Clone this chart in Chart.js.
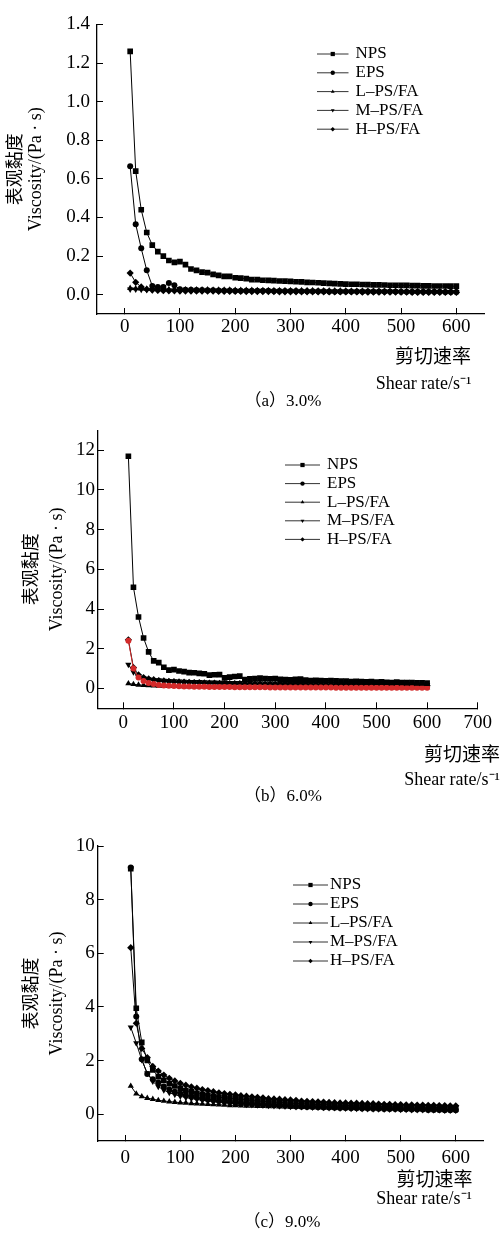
<!DOCTYPE html>
<html>
<head>
<meta charset="utf-8">
<script src="https://cdn.jsdelivr.net/npm/chart.js"></script>
<style>
  body { margin: 0; background: #fff; }
  #wrap { position: relative; width: 501px; height: 1242px; }
  canvas { position: absolute; left: 0; display: block; }
</style>
</head>
<body>
<div id="wrap">
  <canvas id="chartA" width="501" height="410" style="top:0px"></canvas>
  <canvas id="chartB" width="501" height="405" style="top:410px"></canvas>
  <canvas id="chartC" width="501" height="427" style="top:815px"></canvas>
</div>
<script>
// ---- data ----
const seriesNames = ['NPS', 'EPS', 'L–PS/FA', 'M–PS/FA', 'H–PS/FA'];
const shearRate = [10, 20, 30, 40, 50, 60, 70, 80, 90, 100,
  110, 120, 130, 140, 150, 160, 170, 180, 190, 200,
  210, 220, 230, 240, 250, 260, 270, 280, 290, 300,
  310, 320, 330, 340, 350, 360, 370, 380, 390, 400,
  410, 420, 430, 440, 450, 460, 470, 480, 490, 500,
  510, 520, 530, 540, 550, 560, 570, 580, 590, 600];

// (a) 3.0%
const npsA = [1.26, 0.64, 0.44, 0.322, 0.257, 0.223, 0.2, 0.177, 0.167, 0.171,
  0.156, 0.133, 0.126, 0.117, 0.114, 0.105, 0.1, 0.095, 0.095, 0.088,
  0.086, 0.083, 0.078, 0.078, 0.075, 0.074, 0.073, 0.071, 0.07, 0.069,
  0.067, 0.066, 0.064, 0.063, 0.062, 0.06, 0.059, 0.057, 0.056, 0.055,
  0.054, 0.054, 0.053, 0.052, 0.051, 0.051, 0.05, 0.049, 0.049, 0.048,
  0.048, 0.047, 0.047, 0.046, 0.046, 0.045, 0.045, 0.045, 0.044, 0.044];
const epsA = [0.665, 0.365, 0.24, 0.126, 0.045, 0.04, 0.04, 0.06, 0.049, 0.028,
  0.026, 0.025, 0.024, 0.024, 0.023, 0.023, 0.022, 0.022, 0.022, 0.021,
  0.021, 0.021, 0.02, 0.02, 0.02, 0.02, 0.019, 0.019, 0.019, 0.019,
  0.019, 0.018, 0.018, 0.018, 0.018, 0.018, 0.017, 0.017, 0.017, 0.017,
  0.017, 0.017, 0.016, 0.016, 0.016, 0.016, 0.016, 0.016, 0.016, 0.015,
  0.015, 0.015, 0.015, 0.015, 0.015, 0.015, 0.015, 0.014, 0.014, 0.014];
const lowA = [0.034, 0.032, 0.031, 0.03, 0.03, 0.029, 0.029, 0.028, 0.028, 0.027,
  0.027, 0.027, 0.026, 0.026, 0.026, 0.025, 0.025, 0.025, 0.025, 0.024,
  0.024, 0.024, 0.024, 0.023, 0.023, 0.023, 0.023, 0.023, 0.022, 0.022,
  0.022, 0.022, 0.022, 0.022, 0.021, 0.021, 0.021, 0.021, 0.021, 0.021,
  0.02, 0.02, 0.02, 0.02, 0.02, 0.02, 0.02, 0.02, 0.019, 0.019,
  0.019, 0.019, 0.019, 0.019, 0.019, 0.019, 0.019, 0.018, 0.018, 0.018];
const midA = [0.028, 0.027, 0.026, 0.025, 0.025, 0.024, 0.024, 0.023, 0.023, 0.023,
  0.022, 0.022, 0.022, 0.021, 0.021, 0.021, 0.021, 0.02, 0.02, 0.02,
  0.02, 0.02, 0.019, 0.019, 0.019, 0.019, 0.019, 0.018, 0.018, 0.018,
  0.018, 0.018, 0.018, 0.017, 0.017, 0.017, 0.017, 0.017, 0.017, 0.017,
  0.016, 0.016, 0.016, 0.016, 0.016, 0.016, 0.016, 0.016, 0.016, 0.015,
  0.015, 0.015, 0.015, 0.015, 0.015, 0.015, 0.015, 0.015, 0.015, 0.015];
const highA = [0.112, 0.064, 0.04, 0.028, 0.024, 0.022, 0.021, 0.02, 0.02, 0.019,
  0.019, 0.019, 0.018, 0.018, 0.018, 0.018, 0.017, 0.017, 0.017, 0.017,
  0.017, 0.016, 0.016, 0.016, 0.016, 0.016, 0.016, 0.015, 0.015, 0.015,
  0.015, 0.015, 0.015, 0.015, 0.014, 0.014, 0.014, 0.014, 0.014, 0.014,
  0.014, 0.014, 0.013, 0.013, 0.013, 0.013, 0.013, 0.013, 0.013, 0.013,
  0.013, 0.012, 0.012, 0.012, 0.012, 0.012, 0.012, 0.012, 0.012, 0.012];

// (b) 6.0%
const npsB = [11.7, 5.1, 3.6, 2.54, 1.84, 1.39, 1.3, 1.07, 0.92, 0.95,
  0.88, 0.85, 0.8, 0.79, 0.76, 0.74, 0.67, 0.69, 0.7, 0.53,
  0.57, 0.6, 0.62, 0.45, 0.48, 0.5, 0.52, 0.5, 0.49, 0.5,
  0.46, 0.45, 0.44, 0.46, 0.47, 0.42, 0.4, 0.41, 0.4, 0.39,
  0.4, 0.38, 0.37, 0.37, 0.35, 0.36, 0.34, 0.33, 0.35, 0.32,
  0.33, 0.31, 0.3, 0.32, 0.3, 0.29, 0.3, 0.28, 0.28, 0.27];
const epsB = [2.4, 1.0, 0.55, 0.38, 0.28, 0.22, 0.18, 0.15, 0.13, 0.12,
  0.11, 0.1, 0.095, 0.09, 0.085, 0.08, 0.078, 0.075, 0.072, 0.07,
  0.068, 0.066, 0.064, 0.062, 0.06, 0.058, 0.057, 0.055, 0.054, 0.053,
  0.052, 0.05, 0.049, 0.048, 0.047, 0.046, 0.045, 0.044, 0.043, 0.042,
  0.042, 0.041, 0.04, 0.04, 0.039, 0.038, 0.038, 0.037, 0.037, 0.036,
  0.036, 0.035, 0.035, 0.034, 0.034, 0.033, 0.033, 0.033, 0.032, 0.032];
const lowB = [0.25, 0.21, 0.18, 0.16, 0.15, 0.14, 0.13, 0.125, 0.12, 0.115,
  0.11, 0.105, 0.1, 0.1, 0.095, 0.095, 0.09, 0.09, 0.088, 0.086,
  0.084, 0.082, 0.08, 0.08, 0.078, 0.076, 0.075, 0.074, 0.073, 0.072,
  0.071, 0.07, 0.069, 0.068, 0.067, 0.066, 0.066, 0.065, 0.064, 0.063,
  0.063, 0.062, 0.061, 0.061, 0.06, 0.06, 0.059, 0.059, 0.058, 0.058,
  0.057, 0.057, 0.056, 0.056, 0.055, 0.055, 0.055, 0.054, 0.054, 0.053];
const midB = [1.2, 0.82, 0.62, 0.52, 0.47, 0.44, 0.42, 0.4, 0.38, 0.37,
  0.36, 0.35, 0.34, 0.33, 0.33, 0.32, 0.31, 0.31, 0.3, 0.3,
  0.29, 0.29, 0.28, 0.28, 0.28, 0.27, 0.27, 0.26, 0.26, 0.26,
  0.25, 0.25, 0.25, 0.24, 0.24, 0.24, 0.23, 0.23, 0.23, 0.23,
  0.22, 0.22, 0.22, 0.22, 0.21, 0.21, 0.21, 0.21, 0.2, 0.2,
  0.2, 0.2, 0.2, 0.19, 0.19, 0.19, 0.19, 0.19, 0.18, 0.18];
const highB = [2.45, 1.05, 0.68, 0.55, 0.48, 0.44, 0.4, 0.38, 0.36, 0.34,
  0.33, 0.32, 0.31, 0.3, 0.29, 0.28, 0.27, 0.27, 0.26, 0.25,
  0.25, 0.24, 0.24, 0.23, 0.23, 0.22, 0.22, 0.21, 0.21, 0.21,
  0.2, 0.2, 0.2, 0.19, 0.19, 0.19, 0.18, 0.18, 0.18, 0.18,
  0.17, 0.17, 0.17, 0.17, 0.16, 0.16, 0.16, 0.16, 0.16, 0.15,
  0.15, 0.15, 0.15, 0.15, 0.14, 0.14, 0.14, 0.14, 0.14, 0.14];

// (c) 9.0%
const npsC = [9.15, 3.95, 2.68, 2.0, 1.65, 1.4, 1.26, 1.14, 1.05, 0.96,
  0.88, 0.83, 0.78, 0.74, 0.7, 0.67, 0.64, 0.61, 0.59, 0.57,
  0.55, 0.53, 0.51, 0.49, 0.48, 0.46, 0.45, 0.44, 0.42, 0.41,
  0.4, 0.39, 0.38, 0.37, 0.36, 0.36, 0.35, 0.34, 0.33, 0.33,
  0.32, 0.31, 0.31, 0.3, 0.3, 0.29, 0.29, 0.28, 0.28, 0.27,
  0.27, 0.27, 0.26, 0.26, 0.25, 0.25, 0.25, 0.24, 0.24, 0.24];
const epsC = [9.2, 3.64, 2.05, 1.5, 1.3, 1.18, 1.03, 0.92, 0.84, 0.77,
  0.71, 0.66, 0.62, 0.58, 0.55, 0.52, 0.49, 0.47, 0.45, 0.43,
  0.41, 0.39, 0.38, 0.36, 0.35, 0.34, 0.33, 0.32, 0.31, 0.3,
  0.29, 0.28, 0.27, 0.27, 0.26, 0.25, 0.25, 0.24, 0.23, 0.23,
  0.22, 0.22, 0.21, 0.21, 0.2, 0.2, 0.19, 0.19, 0.19, 0.18,
  0.18, 0.17, 0.17, 0.17, 0.16, 0.16, 0.16, 0.15, 0.15, 0.15];
const lowC = [1.05, 0.76, 0.66, 0.6, 0.56, 0.52, 0.49, 0.47, 0.45, 0.43,
  0.42, 0.4, 0.39, 0.38, 0.37, 0.36, 0.35, 0.34, 0.33, 0.33,
  0.32, 0.31, 0.31, 0.3, 0.3, 0.29, 0.29, 0.28, 0.28, 0.27,
  0.27, 0.26, 0.26, 0.25, 0.25, 0.25, 0.24, 0.24, 0.23, 0.23,
  0.23, 0.22, 0.22, 0.22, 0.21, 0.21, 0.21, 0.2, 0.2, 0.2,
  0.19, 0.19, 0.19, 0.18, 0.18, 0.18, 0.17, 0.17, 0.17, 0.16];
const midC = [3.24, 2.65, 2.02, 1.53, 1.22, 1.03, 0.9, 0.8, 0.73, 0.67,
  0.62, 0.58, 0.55, 0.52, 0.49, 0.47, 0.45, 0.43, 0.41, 0.39,
  0.38, 0.36, 0.35, 0.34, 0.33, 0.32, 0.31, 0.3, 0.29, 0.28,
  0.27, 0.27, 0.26, 0.25, 0.25, 0.24, 0.23, 0.23, 0.22, 0.22,
  0.21, 0.21, 0.2, 0.2, 0.19, 0.19, 0.18, 0.18, 0.18, 0.17,
  0.17, 0.16, 0.16, 0.16, 0.15, 0.15, 0.15, 0.14, 0.14, 0.14];
const highC = [6.21, 3.39, 2.45, 2.11, 1.78, 1.61, 1.46, 1.34, 1.24, 1.15,
  1.08, 1.02, 0.97, 0.92, 0.88, 0.84, 0.8, 0.77, 0.74, 0.72,
  0.69, 0.67, 0.65, 0.63, 0.61, 0.58, 0.57, 0.56, 0.54, 0.53,
  0.52, 0.49, 0.48, 0.47, 0.46, 0.45, 0.44, 0.43, 0.42, 0.42,
  0.41, 0.41, 0.4, 0.39, 0.39, 0.38, 0.37, 0.37, 0.36, 0.36,
  0.35, 0.35, 0.34, 0.34, 0.33, 0.33, 0.32, 0.32, 0.31, 0.31];

// ticks
const xTicksAC = [0, 100, 200, 300, 400, 500, 600];
const xTicksB = [0, 100, 200, 300, 400, 500, 600, 700];
const yTicksA = [0, 0.2, 0.4, 0.6, 0.8, 1.0, 1.2, 1.4];
const yTicksB = [0, 2, 4, 6, 8, 10, 12];
const yTicksC = [0, 2, 4, 6, 8, 10];

// texts
const yTitle = ['表观黏度', 'Viscosity/(Pa · s)'];
const xTitleZh = '剪切速率';
const xTitleEn = 'Shear rate/s⁻¹';
const captions = ['（a）3.0%', '（b）6.0%', '（c）9.0%'];

const SERIF = '"Liberation Serif", "Times New Roman", "Noto Sans CJK SC", serif';
const pointStyles = ['rect', 'circle', 'triangle', 'triangle', 'rectRot'];
const pointRot = [0, 0, 0, 180, 0];
const pointSizes = [4, 3, 3.6, 3.6, 3.6];

// text drawn at fixed spots (axis title on x, caption)
const overlayText = {
    id: 'overlayText',
    afterDraw(chart, args, opts) {
        const ctx = chart.ctx;
        ctx.save();
        ctx.fillStyle = '#000';
        ctx.textBaseline = 'middle';
        opts.items.forEach(it => {
            ctx.font = it.font;
            ctx.textAlign = it.align;
            ctx.fillText(it.text, it.x, it.y);
        });
        ctx.restore();
    }
};

// legend inside the plot: short line + marker + label
const insideLegend = {
    id: 'insideLegend',
    afterDraw(chart, args, opts) {
        const ctx = chart.ctx;
        ctx.save();
        chart.data.datasets.forEach((ds, i) => {
            const y = opts.y + i * opts.gap;
            ctx.strokeStyle = '#333';
            ctx.lineWidth = 1;
            ctx.beginPath();
            ctx.moveTo(opts.x, y);
            ctx.lineTo(opts.x + opts.lineLen, y);
            ctx.stroke();
            ctx.fillStyle = '#000';
            ctx.strokeStyle = '#000';
            Chart.helpers.drawPoint(ctx, {
                pointStyle: ds.pointStyle, rotation: ds.pointRotation || 0,
                radius: ds.pointStyle === 'rect' ? 3 : 2.2, borderWidth: 0
            }, opts.x + opts.lineLen / 2, y);
            ctx.font = '17px ' + SERIF;
            ctx.textAlign = 'left';
            ctx.textBaseline = 'middle';
            ctx.fillText(ds.label, opts.x + opts.lineLen + opts.textGap, y);
        });
        ctx.restore();
    }
};

function buildSets(cols, colorEps) {
    return cols.map((vals, i) => {
        const c = (i === 1 && colorEps) ? colorEps : '#000';
        return {
            label: seriesNames[i],
            data: shearRate.map((x, k) => ({ x: x, y: vals[k] })),
            borderColor: c,
            backgroundColor: c,
            borderWidth: 1,
            pointStyle: pointStyles[i],
            pointRotation: pointRot[i],
            pointRadius: pointSizes[i],
            pointBorderWidth: 0,
            pointBackgroundColor: c,
            tension: 0
        };
    });
}

function makePanel(id, p) {
    const ctx = document.getElementById(id).getContext('2d');
    const H = ctx.canvas.height;
    new Chart(ctx, {
        type: 'line',
        data: { datasets: p.sets },
        options: {
            responsive: false,
            animation: false,
            devicePixelRatio: 1,
            layout: { padding: { left: 0, top: p.top, right: p.right, bottom: 0 } },
            plugins: {
                legend: { display: false },
                tooltip: { enabled: false },
                insideLegend: p.legend,
                overlayText: { items: p.texts }
            },
            scales: {
                x: {
                    type: 'linear', min: p.xMin, max: p.xMax,
                    afterBuildTicks: s => { s.ticks = p.xTicks.map(v => ({ value: v })); },
                    afterFit: s => { s.height = H - p.axisY; },
                    border: { color: '#000', width: 1.3 },
                    grid: { drawOnChartArea: false, tickLength: -6, color: '#000' },
                    ticks: { color: '#000', font: { family: SERIF, size: 19 }, padding: p.xPad, maxRotation: 0 }
                },
                y: {
                    type: 'linear', min: p.yMin, max: p.yMax,
                    afterBuildTicks: s => { s.ticks = p.yTicks.map(v => ({ value: v })); },
                    afterFit: s => { s.width = p.leftW; },
                    border: { color: '#000', width: 1.3 },
                    grid: { drawOnChartArea: false, tickLength: -6, color: '#000' },
                    ticks: {
                        color: '#000', font: { family: SERIF, size: 19 }, padding: p.yPad,
                        callback: v => v.toFixed(p.dec)
                    },
                    title: {
                        display: true, text: yTitle, color: '#000',
                        font: { family: SERIF, size: 18, lineHeight: p.titleLH },
                        padding: { top: p.titlePad, bottom: 0 }
                    }
                }
            }
        },
        plugins: [insideLegend, overlayText]
    });
}

function texts(zx, zy, ex, ey, cap, cx, cy) {
    return [
        { text: xTitleZh, x: zx, y: zy, align: 'right', font: '19px "Noto Sans CJK SC", sans-serif' },
        { text: xTitleEn, x: ex, y: ey, align: 'right', font: '18px ' + SERIF },
        { text: cap, x: cx, y: cy, align: 'center', font: '17px ' + SERIF }
    ];
}

makePanel('chartA', {
    sets: buildSets([npsA, epsA, lowA, midA, highA]),
    top: 20.5, right: 17, axisY: 314, leftW: 97,
    xMin: -50, xMax: 650, xTicks: xTicksAC, xPad: 8,
    yMin: -0.1, yMax: 1.4, yTicks: yTicksA, yPad: 13, dec: 1,
    titleLH: 20 / 18, titlePad: 6.5,
    legend: { x: 317, y: 54, gap: 18.8, lineLen: 31.5, textGap: 7 },
    texts: texts(471, 356, 471.5, 384, captions[0], 283, 402)
});

makePanel('chartB', {
    sets: buildSets([npsB, epsB, lowB, midB, highB], '#d42a2a'),
    top: 19.3, right: 16.7, axisY: 298.3, leftW: 98,
    xMin: -50, xMax: 700, xTicks: xTicksB, xPad: 9,
    yMin: -1, yMax: 13, yTicks: yTicksB, yPad: 9, dec: 0,
    titleLH: 25 / 18, titlePad: 20,
    legend: { x: 285, y: 55, gap: 18.6, lineLen: 35, textGap: 7 },
    texts: texts(500, 344, 500, 370, captions[1], 283, 387)
});

makePanel('chartC', {
    sets: buildSets([npsC, epsC, lowC, midC, highC]),
    top: 31, right: 17.7, axisY: 326, leftW: 97.7,
    xMin: -50, xMax: 650, xTicks: xTicksAC, xPad: 12,
    yMin: -1, yMax: 10, yTicks: yTicksC, yPad: 9, dec: 0,
    titleLH: 25 / 18, titlePad: 20,
    legend: { x: 293, y: 70, gap: 19, lineLen: 35, textGap: 2 },
    texts: texts(472.5, 364, 472, 384, captions[2], 282, 408)
});
</script>
</body>
</html>
